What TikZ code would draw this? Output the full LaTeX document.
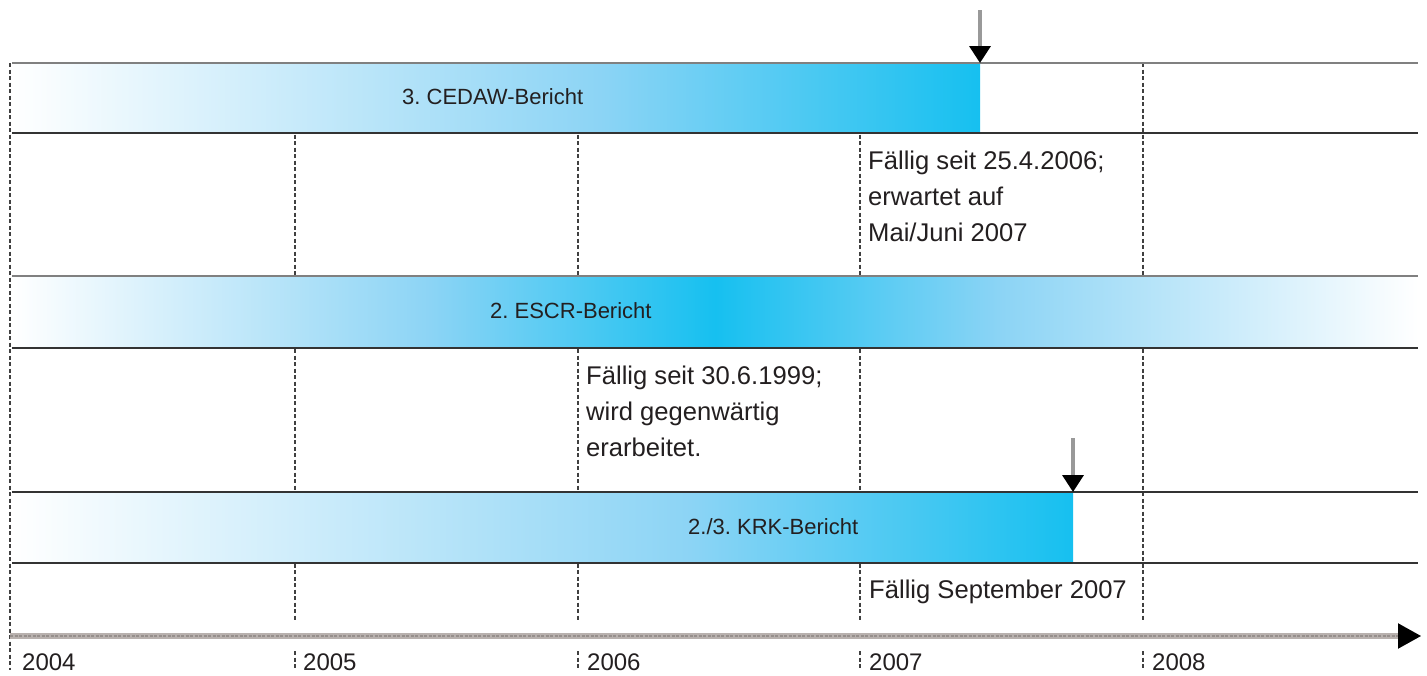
\documentclass[tikz,border=0pt]{standalone}
\usepackage{fontspec}
\setmainfont{Liberation Sans}
\usetikzlibrary{arrows.meta}
\definecolor{cy}{RGB}{22,192,240}
\definecolor{cymid}{RGB}{140,212,245}
\definecolor{axisgray}{RGB}{184,177,174}
\definecolor{axisdark}{RGB}{150,143,140}
\definecolor{txt}{RGB}{35,31,32}
\frenchspacing
\begin{document}
\begin{tikzpicture}[x=1pt,y=-1pt,
  gridline/.style={draw=black!75, line width=1.2pt, dash pattern=on 4pt off 2.5pt},
  bandtop/.style={draw=black!50, line width=1.6pt},
  bandbot/.style={draw=black!80, line width=1.6pt},
  bandlbl/.style={font=\fontsize{22}{26}\selectfont, text=txt, inner sep=0pt, anchor=base west},
  note/.style={font=\fontsize{25.6}{36}\selectfont, text=txt, inner sep=0pt, align=left, anchor=north west},
  yearlbl/.style={font=\fontsize{24}{28}\selectfont, text=txt, inner sep=0pt, anchor=base west},
  duearrow/.style={draw=black!40, line width=3.5pt, -{Triangle[length=17pt,width=21pt,color=black]}},
  axisline/.style={draw=axisgray, line width=5.5pt},
  axisarrow/.style={draw=axisdark, line width=2.2pt, dash pattern=on 3pt off 1.5pt, -{Triangle[length=23pt,width=25pt,color=black]}},
]
\useasboundingbox (0,0) rectangle (1427,675);
\fill[white] (0,0) rectangle (1427,675);

% dashed year lines (behind bands)
\draw[gridline] (10,63) -- (10,670);
\foreach \x in {295,578,860,1143}{
  \draw[gridline] (\x,63) -- (\x,621);
  \draw[gridline] (\x,651) -- (\x,669);
}

% CEDAW band
\shade[left color=white, right color=cymid] (12,63) rectangle (600.5,133);
\shade[left color=cymid, right color=cy] (600,63) rectangle (980,133);
% ESCR band
\shade[left color=white, right color=cymid] (12,276) rectangle (430.5,348);
\shade[left color=cymid, right color=cy] (430,276) rectangle (715.5,348);
\shade[left color=cy, right color=cymid] (715,276) rectangle (1000.5,348);
\shade[left color=cymid, right color=white] (1000,276) rectangle (1418,348);
% KRK band
\shade[left color=white, right color=cymid] (12,492) rectangle (690.5,563);
\shade[left color=cymid, right color=cy] (690,492) rectangle (1073,563);

% band borders
\draw[bandtop] (12,63) -- (1418,63);
\draw[bandbot] (12,133) -- (1418,133);
\draw[bandtop] (12,276) -- (1418,276);
\draw[bandbot] (12,348) -- (1418,348);
\draw[bandbot] (12,492) -- (1418,492);
\draw[bandbot] (12,563) -- (1418,563);

% band labels
\node[bandlbl] (cedaw) at (402,104) {3. CEDAW-Bericht};
\node[bandlbl] (escr) at (490,318) {2. ESCR-Bericht};
\node[bandlbl] (krk) at (688,534) {2./3. KRK-Bericht};

% notes
\node[note] (n1) at (868,151) {Fällig seit 25.4.2006;\\erwartet auf\\Mai/Juni 2007};
\node[note] (n2) at (586,366) {Fällig seit 30.6.1999;\\wird gegenwärtig\\erarbeitet.};
\node[note, anchor=base west] (n3) at (869,598) {Fällig September 2007};

% due arrows
\coordinate (a1s) at (980,10);
\coordinate (a1e) at (980,63);
\draw[duearrow] (a1s) -- (a1e);
\coordinate (a2s) at (1073,438);
\coordinate (a2e) at (1073,492);
\draw[duearrow] (a2s) -- (a2e);

% time axis
\coordinate (axs) at (10,636);
\coordinate (axb) at (1400,636);
\coordinate (axe) at (1421,636);
\draw[axisline] (axs) -- (axb);
\draw[axisarrow] (axs) -- (axe);

% years
\node[yearlbl] (y2004) at (22,670) {2004};
\node[yearlbl] (y2005) at (303,670) {2005};
\node[yearlbl] (y2006) at (587,670) {2006};
\node[yearlbl] (y2007) at (869,670) {2007};
\node[yearlbl] (y2008) at (1152,670) {2008};
\end{tikzpicture}
\end{document}
